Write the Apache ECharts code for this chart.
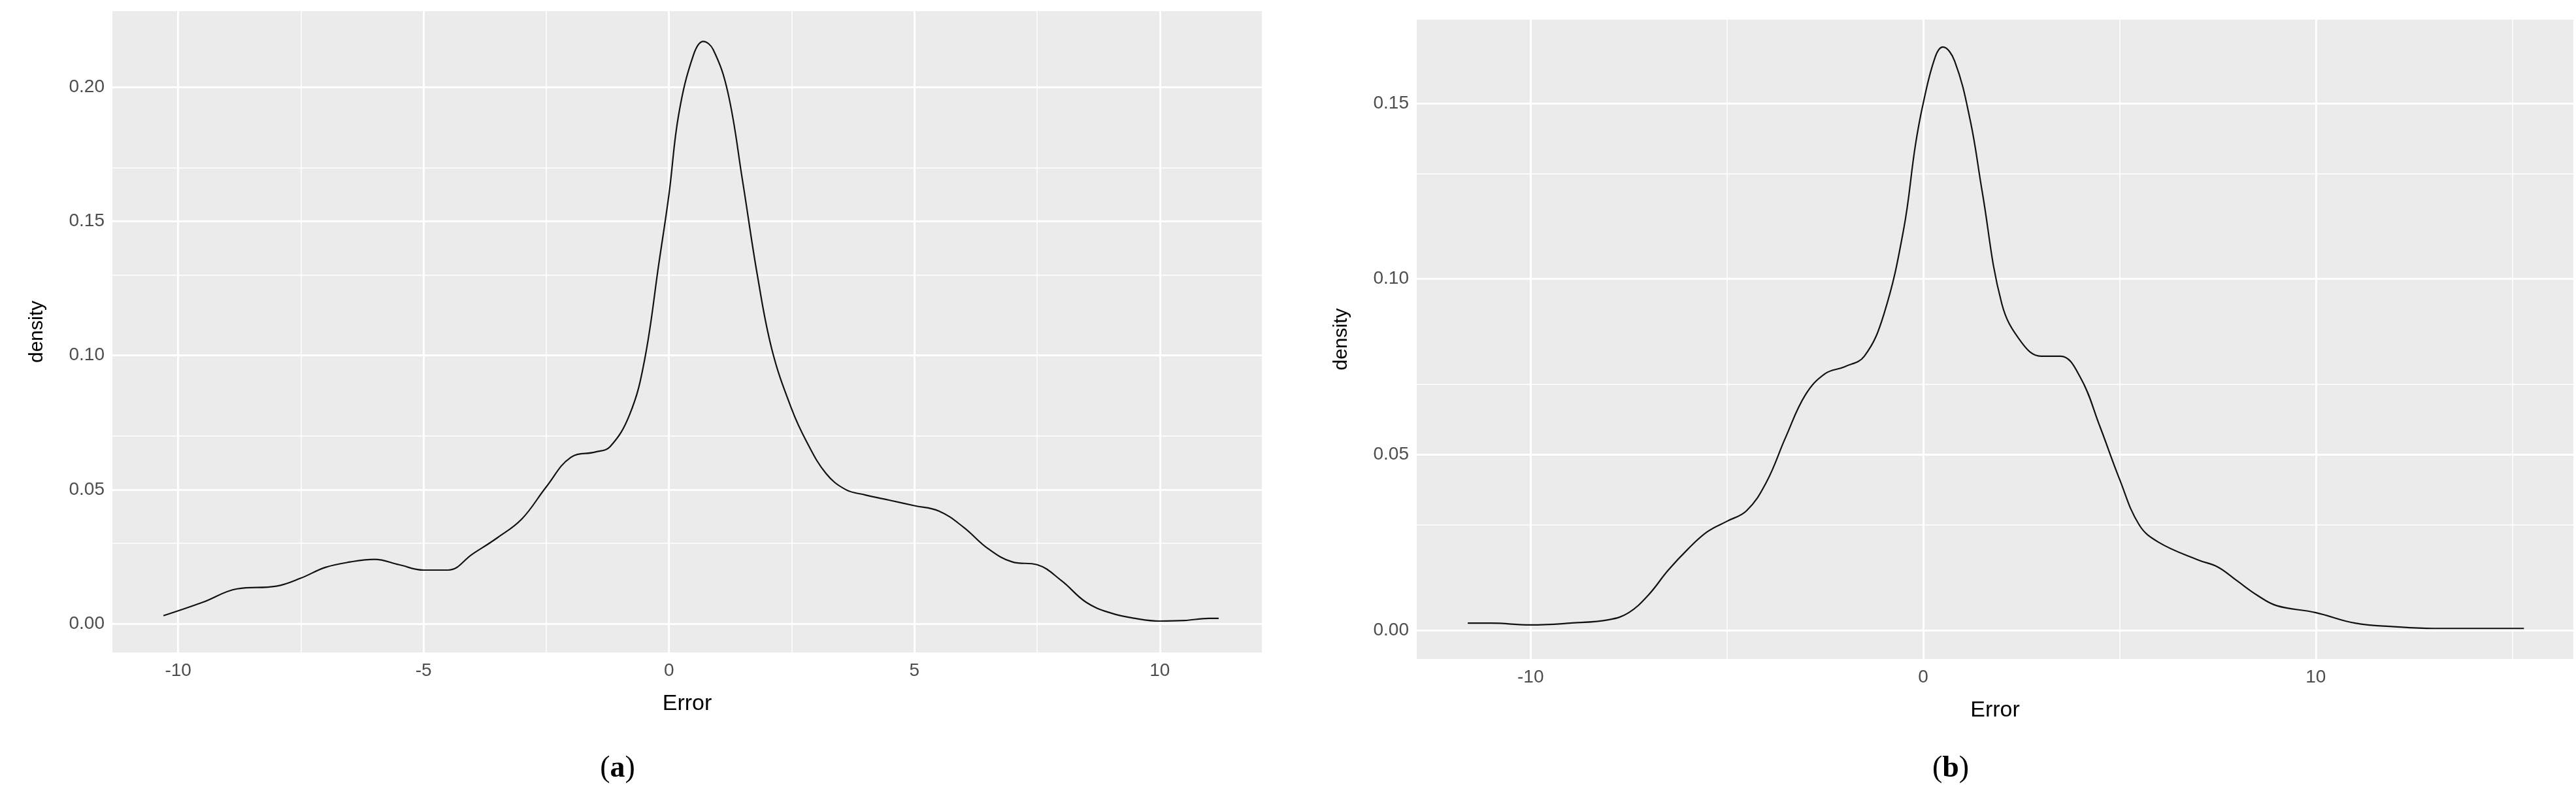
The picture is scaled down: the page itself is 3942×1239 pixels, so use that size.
<!DOCTYPE html>
<html>
<head>
<meta charset="utf-8">
<title>Error density</title>
<script src="https://cdn.jsdelivr.net/npm/echarts@6/dist/echarts.min.js"></script>
<style>html,body{margin:0;background:#fff}#chart{width:3942px;height:1239px}</style>
</head>
<body>
<div id="chart"></div>
<script>
// panel (a)
var errA = [-10.3,-9.5,-8.8,-8,-7.5,-7,-6.5,-6,-5.5,-5,-4.5,-4,-3.5,-3,-2.5,-2,-1.5,-1.2,-0.8,-0.5,-0.2,0,0.2,0.5,0.7,0.9,1.2,1.5,1.8,2.1,2.5,2.8,3.2,3.6,4,4.5,5,5.5,6,6.5,7,7.5,8,8.5,9,9.5,10,10.5,11,11.2];
var densA = [0.003,0.008,0.013,0.014,0.017,0.021,0.023,0.024,0.022,0.020,0.020,0.026,0.032,0.039,0.051,0.062,0.064,0.066,0.078,0.098,0.135,0.160,0.190,0.212,0.217,0.214,0.198,0.165,0.130,0.102,0.080,0.068,0.056,0.050,0.048,0.046,0.044,0.042,0.036,0.028,0.023,0.022,0.016,0.008,0.004,0.002,0.001,0.0012,0.002,0.002];
// panel (b)
var errB = [-11.6,-11,-10,-9,-8,-7.5,-7,-6.5,-6,-5.5,-5,-4.5,-4,-3.5,-3,-2.5,-2,-1.5,-1,-0.5,-0.2,0,0.3,0.5,0.8,1.2,1.5,2,2.5,3,3.5,4,4.5,5,5.5,6,7,7.5,8,8.5,9,10,11,12,13,15,15.3];
var densB = [0.002,0.002,0.0015,0.002,0.003,0.005,0.010,0.017,0.023,0.028,0.031,0.034,0.042,0.055,0.067,0.073,0.075,0.078,0.090,0.114,0.138,0.150,0.163,0.166,0.162,0.145,0.125,0.093,0.082,0.078,0.078,0.072,0.058,0.043,0.030,0.025,0.020,0.018,0.014,0.010,0.007,0.005,0.002,0.001,0.0005,0.0005,0.0005];

var xTicksA = [-10,-5,0,5,10], xMinorA = [-7.5,-2.5,2.5,7.5];
var yTicksA = [0,0.05,0.10,0.15,0.20], yMinorA = [0.025,0.075,0.125,0.175];
var xTicksB = [-10,0,10], xMinorB = [-5,5,15];
var yTicksB = [0,0.05,0.10,0.15], yMinorB = [0.025,0.075,0.125];

var font = '"Liberation Sans Narrow","Liberation Sans",sans-serif';

function xAxis(idx, min, max, ticks) {
  return {type:'value', gridIndex:idx, min:min, max:max, name:'Error', nameLocation:'middle', nameGap:62,
    nameTextStyle:{fontFamily:font, fontSize:34, color:'#000'},
    axisLine:{show:false}, splitLine:{show:false},
    axisTick:{show:true, length:7, customValues:ticks, lineStyle:{color:'#333', width:2}},
    axisLabel:{customValues:ticks, fontFamily:font, fontSize:28, color:'#4d4d4d', margin:14}};
}
function yAxis(idx, min, max, ticks, gap) {
  return {type:'value', gridIndex:idx, min:min, max:max, name:'density', nameLocation:'middle', nameGap:gap,
    nameTextStyle:{fontFamily:'"Liberation Sans",sans-serif', fontSize:30, color:'#000'},
    axisLine:{show:false}, splitLine:{show:false},
    axisTick:{show:true, length:7, customValues:ticks, lineStyle:{color:'#333', width:2}},
    axisLabel:{customValues:ticks, fontFamily:font, fontSize:28, color:'#4d4d4d', margin:12,
      formatter:function(v){return v.toFixed(2);}}};
}
function gridLines(xs, ys, w) {
  return xs.map(function(v){return {xAxis:v, lineStyle:{width:w}};})
    .concat(ys.map(function(v){return {yAxis:v, lineStyle:{width:w}};}));
}
function gridSeries(idx, xMajor, xMinor, yMajor, yMinor) {
  return {type:'line', xAxisIndex:idx, yAxisIndex:idx, data:[], silent:true,
    markLine:{symbol:'none', silent:true, label:{show:false}, animation:false,
      lineStyle:{color:'#ffffff', type:'solid'},
      data:gridLines(xMinor, yMinor, 1.5).concat(gridLines(xMajor, yMajor, 3))}};
}
function curve(idx, xs, ys) {
  return {type:'line', xAxisIndex:idx, yAxisIndex:idx, smooth:0.4, symbol:'none',
    lineStyle:{color:'#111', width:2.2}, z:5,
    data:xs.map(function(x,i){return [x, ys[i]];})};
}

var chart = echarts.init(document.getElementById('chart'));
chart.setOption({
  animation:false,
  grid:[
    {left:172, top:17, width:1759, height:981, show:true, backgroundColor:'#ebebeb', borderWidth:0},
    {left:2168, top:30, width:1770, height:978, show:true, backgroundColor:'#ebebeb', borderWidth:0}
  ],
  xAxis:[xAxis(0, -11.34, 12.08, xTicksA), xAxis(1, -12.9, 16.56, xTicksB)],
  yAxis:[yAxis(0, -0.0107, 0.2283, yTicksA, 100), yAxis(1, -0.0082, 0.1738, yTicksB, 100)],
  title:[
    {text:'({a|a})', left:940, top:1148, textAlign:'center',
      textStyle:{fontFamily:'"Liberation Serif",serif', fontSize:46, fontWeight:'normal', color:'#000',
        rich:{a:{fontFamily:'"Liberation Serif",serif', fontSize:46, fontWeight:'bold'}}}},
    {text:'({b|b})', left:2980, top:1148, textAlign:'center',
      textStyle:{fontFamily:'"Liberation Serif",serif', fontSize:46, fontWeight:'normal', color:'#000',
        rich:{b:{fontFamily:'"Liberation Serif",serif', fontSize:46, fontWeight:'bold'}}}}
  ],
  series:[
    gridSeries(0, xTicksA, xMinorA, yTicksA, yMinorA),
    gridSeries(1, xTicksB, xMinorB, yTicksB, yMinorB),
    curve(0, errA, densA),
    curve(1, errB, densB)
  ]
});
</script>
</body>
</html>
